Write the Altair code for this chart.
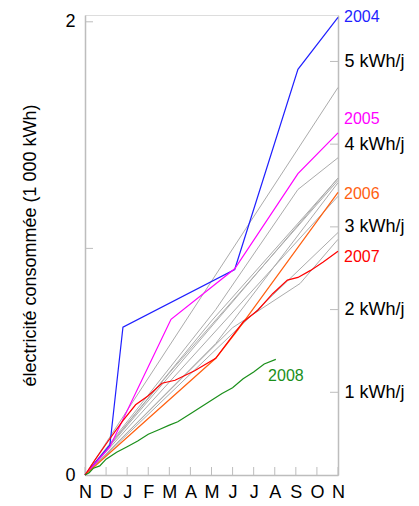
import altair as alt
import pandas as pd

months = ["N", "D", "J", "F", "M", "A", "M", "J", "J", "A", "S", "O", "N"]

# colored years: month offset since November, cumulative consumption (1000 kWh)
y2004_m = [0, 1.18, 1.8, 7.1, 10.1, 12]
y2004_v = [0, 0.132, 0.652, 0.907, 1.79, 2.02]

y2005_m = [0, 1.18, 4.08, 7.1, 10.1, 12]
y2005_v = [0, 0.125, 0.687, 0.91, 1.33, 1.51]

y2006_m = [0, 6.2, 7.25, 12]
y2006_v = [0, 0.515, 0.64, 1.247]

y2007_m = [0, 0.5, 1.1, 1.8, 2.4, 3.0, 3.65, 4.27, 5.2, 6.2, 7.25, 7.5, 8.2, 8.9, 9.6, 10.1, 10.7, 11.3, 12]
y2007_v = [0, 0.07, 0.15, 0.24, 0.31, 0.35, 0.405, 0.418, 0.46, 0.515, 0.645, 0.675, 0.727, 0.80, 0.86, 0.872, 0.903, 0.94, 0.987]

y2008_m = [0, 0.2, 0.4, 0.7, 1.0, 1.5, 2.0, 2.5, 3.0, 3.5, 4.0, 4.4, 5.0, 5.5, 6.0, 6.5, 7.0, 7.5, 8.0, 8.5, 9.05]
y2008_v = [0, 0.01, 0.03, 0.04, 0.07, 0.10, 0.125, 0.15, 0.18, 0.20, 0.22, 0.235, 0.27, 0.30, 0.33, 0.36, 0.385, 0.425, 0.455, 0.49, 0.51]

# other years (gray)
gray_lines = [
    ([0, 12], [0, 1.71]),
    ([0, 6.2, 10.1, 12], [0, 0.73, 1.26, 1.40]),
    ([0, 12], [0, 1.31]),
    ([0, 6, 12], [0, 0.68, 1.31]),
    ([0, 4, 12], [0, 0.45, 1.30]),
    ([0, 6.2, 12], [0, 0.58, 1.29]),
    ([0, 12], [0, 1.23]),
    ([0, 7, 10.2, 12], [0, 0.65, 0.845, 1.04]),
    ([0, 12], [0, 1.07]),
]

years = ["2004", "2005", "2006", "2007", "2008"]
year_colors = ["#1f1fff", "#ff00ff", "#ff6010", "#ff0000", "#1a8f1a"]

label_m = [12, 12, 12, 12, 8.4]
label_v = [2.02, 1.573, 1.238, 0.96, 0.436]

left_ticks = [1, 2]
kwh_day = [1, 2, 3, 4, 5]

YMAX = 2.03
W, H = 253, 460
AX = "#bdbdbd"

rows = []
for y, ms, vs in zip(years, [y2004_m, y2005_m, y2006_m, y2007_m, y2008_m],
                     [y2004_v, y2005_v, y2006_v, y2007_v, y2008_v]):
    for m, v in zip(ms, vs):
        rows.append({"year": y, "m": m, "value": v})
col_df = pd.DataFrame(rows)

grows = []
for i, (ms, vs) in enumerate(gray_lines):
    for m, v in zip(ms, vs):
        grows.append({"id": i, "m": m, "value": v})
gray_df = pd.DataFrame(grows)

lab_df = pd.DataFrame({"year": years, "m": label_m, "value": label_v, "color": year_colors})

xs = alt.Scale(domain=[0, 12], nice=False, zero=False)
ys = alt.Scale(domain=[0, YMAX], nice=False)

month_arr = "[" + ",".join("'%s'" % m for m in months) + "]"
xax = alt.Axis(values=list(range(13)), labelExpr=month_arr + "[datum.value]",
               tickSize=0, labelFontSize=18, labelPadding=8, domainColor=AX,
               domainWidth=1.5, grid=False, title=None, labelColor="black",
               labelFlush=False, labelOverlap=False)
yax = alt.Axis(values=[0, 1, 2], format="d", tickSize=0, labelFontSize=18,
               labelPadding=10, title="électricité consommée (1 000 kWh)",
               titleFontSize=18, titleFontWeight="normal", titleColor="black",
               titlePadding=25, domainColor=AX, domainWidth=1.5, grid=False,
               labelColor="black")
rax = alt.Axis(orient="right", values=kwh_day, labelExpr="datum.value + ' kWh/j'",
               tickSize=0, labelFontSize=18, labelPadding=6, domainColor=AX,
               domainWidth=1.5, grid=False, title=None, labelColor="black")

gray = alt.Chart(gray_df).mark_line(color="#ababab", strokeWidth=1).encode(
    x=alt.X("m:Q", scale=xs, axis=xax),
    y=alt.Y("value:Q", scale=ys, axis=yax),
    detail="id:N",
)

colored = alt.Chart(col_df).mark_line(strokeWidth=1.2).encode(
    x=alt.X("m:Q", scale=xs, axis=xax),
    y=alt.Y("value:Q", scale=ys, axis=yax),
    color=alt.Color("year:N", scale=alt.Scale(domain=years, range=year_colors), legend=None),
)

labels = alt.Chart(lab_df).mark_text(align="left", baseline="middle", dx=6, fontSize=16).encode(
    x=alt.X("m:Q", scale=xs, axis=xax),
    y=alt.Y("value:Q", scale=ys, axis=yax),
    text="year:N",
    color=alt.Color("color:N", scale=None),
)

bticks = alt.Chart(pd.DataFrame({"m": list(range(13))})).mark_rule(color=AX, strokeWidth=1).encode(
    x=alt.X("m:Q", scale=xs, axis=xax),
    y=alt.value(H),
    y2=alt.value(H - 8),
)

lticks = alt.Chart(pd.DataFrame({"value": left_ticks})).mark_rule(color=AX, strokeWidth=1).encode(
    y=alt.Y("value:Q", scale=ys, axis=yax),
    x=alt.value(0),
    x2=alt.value(8),
)

left = alt.layer(bticks, lticks, gray, colored, labels)

rticks = alt.Chart(pd.DataFrame({"k": kwh_day})).mark_rule(color=AX, strokeWidth=1).encode(
    y=alt.Y("k:Q", scale=alt.Scale(domain=[0, YMAX * 1000 / 365], nice=False), axis=rax),
    x=alt.value(W),
    x2=alt.value(W - 8),
)

chart = alt.layer(left, rticks).resolve_scale(y="independent").properties(
    width=W, height=H, padding={"left": 13, "top": 1, "right": 0, "bottom": 0}
).configure_view(stroke=None).configure(font="Liberation Sans")

chart.save("out.html", embed_options={"renderer": "svg", "actions": False})
